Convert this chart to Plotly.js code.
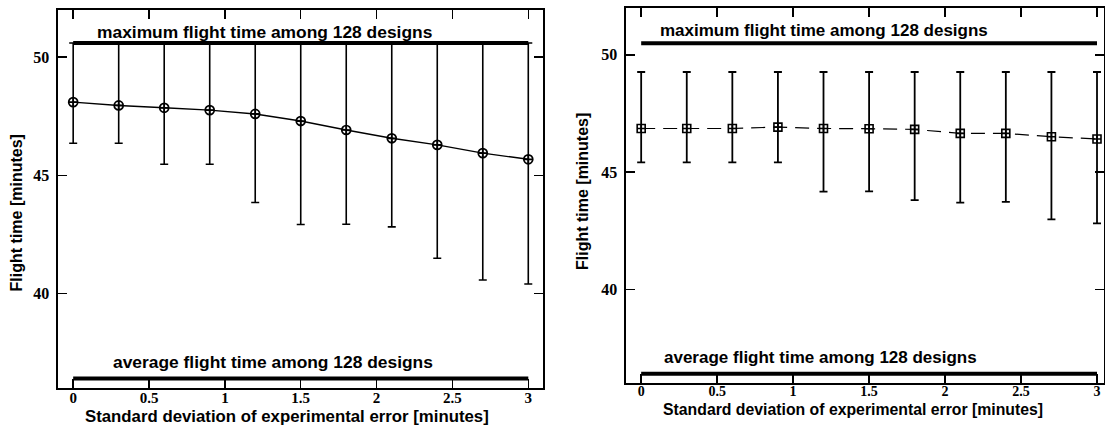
<!DOCTYPE html>
<html>
<head>
<meta charset="utf-8">
<script src="https://cdn.plot.ly/plotly-3.0.1.min.js"></script>
<style>
  html, body { margin: 0; padding: 0; background: #fff; }
  #chart { width: 1105px; height: 440px; }
</style>
</head>
<body>
<div id="chart"></div>
<script>
// Standard deviation of experimental error [minutes]
const sigma = [0, 0.3, 0.6, 0.9, 1.2, 1.5, 1.8, 2.1, 2.4, 2.7, 3.0];

// Left panel: mean flight time with range bars
const leftMean  = [48.10, 47.96, 47.86, 47.76, 47.60, 47.30, 46.92, 46.57, 46.29, 45.94, 45.68];
const leftUpper = [50.6, 50.6, 50.6, 50.6, 50.6, 50.6, 50.6, 50.6, 50.6, 50.6, 50.6];
const leftLower = [46.36, 46.36, 45.47, 45.47, 43.85, 42.92, 42.93, 42.82, 41.49, 40.57, 40.40];

// Right panel: mean flight time with range bars
const rightMean  = [46.86, 46.86, 46.86, 46.92, 46.86, 46.85, 46.82, 46.65, 46.65, 46.51, 46.41];
const rightUpper = [49.27, 49.27, 49.27, 49.27, 49.27, 49.27, 49.27, 49.27, 49.27, 49.27, 49.27];
const rightLower = [45.41, 45.41, 45.41, 45.41, 44.17, 44.18, 43.80, 43.70, 43.73, 42.98, 42.81];

// Reference levels among the 128 designs
const refX = [0, 3];
const leftMax = 50.6, rightMax = 50.5;
const avgFlight = 36.4;

const maxLabel = 'maximum flight time among 128 designs';
const avgLabel = 'average flight time among 128 designs';
const xTitle = 'Standard deviation of experimental error [minutes]';
const yTitle = 'Flight time [minutes]';
const xTickVals = [0, 0.5, 1, 1.5, 2, 2.5, 3];
const xTickText = ['0', '0.5', '1', '1.5', '2', '2.5', '3'];
const yTickVals = [40, 45, 50];

const diff = (a, b) => a.map((v, i) => v - b[i]);

function refLine(level, xa, ya) {
  return {x: refX, y: [level, level], xaxis: xa, yaxis: ya, mode: 'lines',
          line: {color: '#000', width: 4}, hoverinfo: 'skip', showlegend: false};
}

const traces = [
  refLine(leftMax, 'x', 'y'),
  refLine(avgFlight, 'x', 'y'),
  {
    x: sigma, y: leftMean, xaxis: 'x', yaxis: 'y', mode: 'lines+markers',
    line: {color: '#000', width: 1.4},
    marker: {symbol: 'circle-cross-open', size: 9, color: '#000', line: {width: 1.7, color: '#000'}},
    error_y: {type: 'data', symmetric: false, array: diff(leftUpper, leftMean),
              arrayminus: diff(leftMean, leftLower), color: '#000', thickness: 1.6, width: 4},
    showlegend: false
  },
  refLine(rightMax, 'x2', 'y2'),
  refLine(avgFlight, 'x2', 'y2'),
  {
    x: sigma, y: rightMean, xaxis: 'x2', yaxis: 'y2', mode: 'lines+markers',
    line: {color: '#000', width: 1.2, dash: '14px,8px'},
    marker: {symbol: 'square-cross-open', size: 8, color: '#000', line: {width: 1.6, color: '#000'}},
    error_y: {type: 'data', symmetric: false, array: diff(rightUpper, rightMean),
              arrayminus: diff(rightMean, rightLower), color: '#000', thickness: 1.8, width: 4},
    showlegend: false
  }
];

const serif = 'Liberation Serif, Times New Roman, serif';
const sans = 'Liberation Sans, Arial, sans-serif';
function serifBold(size) { return {family: serif, size: size, color: '#000', weight: 'bold'}; }
function bold(size) { return {family: sans, size: size, color: '#000', weight: 'bold'}; }

function xAxis(domain, range, anchor, fontSize) {
  return {
    domain: domain, range: range, anchor: anchor,
    tickmode: 'array', tickvals: xTickVals, ticktext: xTickText,
    ticks: 'inside', ticklen: 9, tickwidth: 1.5, tickcolor: '#000',
    showline: true, linecolor: '#000', linewidth: 1.6, mirror: 'ticks',
    showgrid: false, zeroline: false, tickfont: serifBold(fontSize), ticklabelstandoff: -5
  };
}
function yAxis(domain, anchor) {
  return {
    domain: domain, range: [36, 52], anchor: anchor,
    tickmode: 'array', tickvals: yTickVals,
    ticks: 'inside', ticklen: 9, tickwidth: 1.5, tickcolor: '#000',
    showline: true, linecolor: '#000', linewidth: 1.6, mirror: 'ticks',
    showgrid: false, zeroline: false, tickfont: serifBold(16), ticklabelstandoff: 4
  };
}

// Axis titles placed in paper coordinates
function title(text, x, y, size, angle) {
  return {text: text, xref: 'paper', yref: 'paper', x: x, y: y, xanchor: 'center', yanchor: 'middle',
          textangle: angle, showarrow: false, font: bold(size)};
}
// Labels sitting on the reference lines
function refLabel(text, xa, ya, x, y, size, shift) {
  return {text: text, xref: xa, yref: ya, x: x, y: y, yanchor: 'bottom', showarrow: false,
          font: bold(size), yshift: shift};
}

const layout = {
  width: 1105, height: 440,
  margin: {l: 0, r: 0, t: 0, b: 0},
  paper_bgcolor: '#fff', plot_bgcolor: '#fff',
  showlegend: false,
  xaxis: xAxis([0.0525, 0.4914], [-0.1, 3.097], 'y', 15),
  yaxis: yAxis([0.1182, 0.9773], 'x'),
  xaxis2: xAxis([0.5665, 0.9995], [-0.1, 3.049], 'y2', 14),
  yaxis2: yAxis([0.1295, 0.9818], 'x2'),
  annotations: [
    refLabel(maxLabel, 'x', 'y', 1.262, leftMax, 17.4, -1),
    refLabel(avgLabel, 'x', 'y', 1.315, avgFlight, 17.4, 5),
    refLabel(maxLabel, 'x2', 'y2', 1.202, rightMax, 17.0, 1),
    refLabel(avgLabel, 'x2', 'y2', 1.182, avgFlight, 17.0, 5),
    title(xTitle, 0.2597, 0.0545, 16.8, 0),
    title(xTitle, 0.7715, 0.0682, 15.8, 0),
    title(yTitle, 0.0158, 0.516, 16, -90),
    title(yTitle, 0.5267, 0.5636, 16, -90)
  ]
};

Plotly.newPlot('chart', traces, layout, {displayModeBar: false, staticPlot: true});
</script>
</body>
</html>
